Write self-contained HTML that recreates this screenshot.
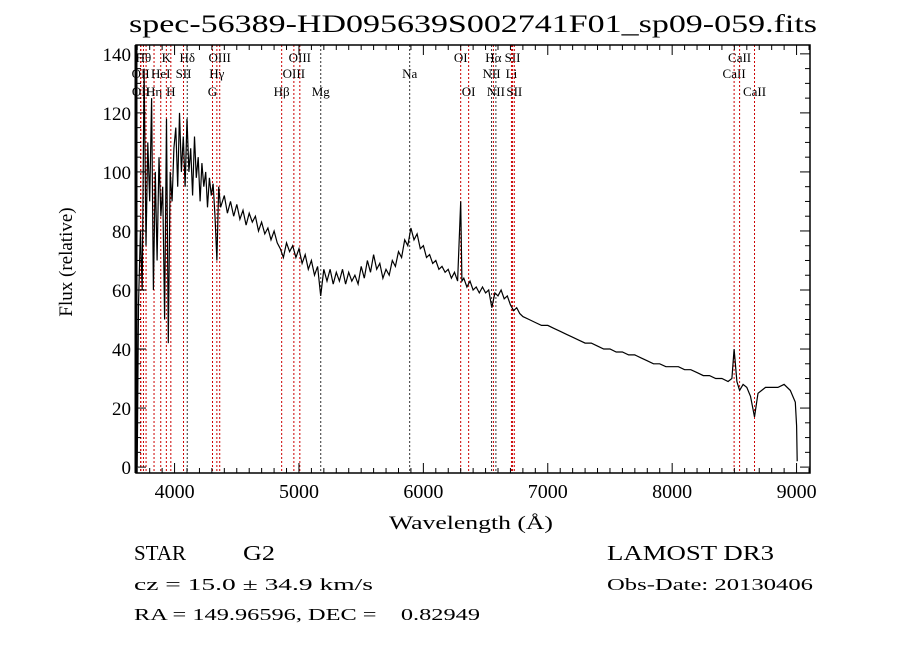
<!DOCTYPE html>
<html><head><meta charset="utf-8"><style>
body{margin:0;background:#fff;}
svg text{font-family:"Liberation Serif",serif;fill:#000;white-space:pre;}
</style></head><body>
<svg id="c" width="900" height="649" xmlns="http://www.w3.org/2000/svg">
<rect width="900" height="649" fill="#fff"/>
<text x="473" y="32" font-size="25" text-anchor="middle" textLength="688" lengthAdjust="spacingAndGlyphs">spec-56389-HD095639S002741F01_sp09-059.fits</text>
<g id="lines"></g>
<g id="spec"></g>
<g id="axes"></g>
<text x="389" y="529" font-size="19" font-family="Liberation Mono" textLength="164" lengthAdjust="spacingAndGlyphs">Wavelength (Å)</text>
<text transform="translate(72,262) rotate(-90)" font-size="19" text-anchor="middle" font-family="Liberation Mono">Flux (relative)</text>
<text x="134" y="560" font-size="21" font-family="Liberation Mono" textLength="52" lengthAdjust="spacingAndGlyphs">STAR</text>
<text x="243" y="560" font-size="21" font-family="Liberation Mono" textLength="32" lengthAdjust="spacingAndGlyphs">G2</text>
<text x="134" y="590" font-size="17" font-family="Liberation Mono" textLength="239" lengthAdjust="spacingAndGlyphs">cz = 15.0 ± 34.9 km/s</text>
<text x="134" y="620" font-size="17" font-family="Liberation Mono" textLength="346" lengthAdjust="spacingAndGlyphs">RA = 149.96596, DEC =    0.82949</text>
<text x="607" y="560" font-size="21" font-family="Liberation Mono" textLength="167" lengthAdjust="spacingAndGlyphs">LAMOST DR3</text>
<text x="607" y="590" font-size="17" font-family="Liberation Mono" textLength="206" lengthAdjust="spacingAndGlyphs">Obs-Date: 20130406</text>
</svg>
<script>
const wavelengths=[3700,3710,3725,3740,3755,3770,3785,3800,3815,3830,3845,3860,3875,3890,3905,3920,3935,3950,3965,3980,3995,4010,4025,4040,4055,4070,4085,4100,4115,4130,4145,4160,4175,4190,4205,4220,4235,4250,4265,4280,4295,4310,4325,4340,4355,4370,
4400,4425,4450,4475,4500,4525,4550,4575,4600,4625,4650,4675,4700,4725,4750,4775,4800,4825,4850,4875,4900,4925,4950,4975,5000,5025,5050,5075,5100,5125,5150,5175,5200,5225,5250,5275,5300,5325,5350,5375,5400,5425,5450,5475,5500,5525,5550,5575,5600,5625,5650,5675,5700,5725,5750,5775,5800,5825,5850,5875,5900,5925,5950,5975,6000,6025,6050,6075,6100,6125,6150,6175,6200,6225,6250,6275,6300,6310,6325,6350,6375,6400,6425,6450,6475,6500,6525,6550,6575,6600,6625,6650,6675,6700,6725,6750,6775,6800,
6850,6900,6950,7000,7050,7100,7150,7200,7250,7300,7350,7400,7450,7500,7550,7600,7650,7700,7750,7800,7850,7900,7950,8000,8050,8100,8150,8200,8250,8300,8350,8400,8450,8480,8498,8520,8542,8570,8600,8630,8662,8690,8720,8750,8800,8850,8900,8950,8990,9000,9005];
const fluxes=[0,55,80,60,135,75,110,90,125,60,100,70,105,85,95,50,118,42,100,90,108,115,95,120,100,112,95,118,100,108,92,112,98,105,90,103,95,100,88,98,92,96,85,70,95,88,
92,86,90,85,89,84,87,82,86,83,85,80,83,79,81,77,80,76,74,71,76,73,75,71,74,69,72,67,70,65,68,58,67,63,67,62,66,63,67,62,66,63,65,62,68,64,70,66,72,67,69,64,67,65,70,68,73,71,77,75,81,77,79,74,75,71,72,69,70,67,68,66,67,64,66,63,90,63,64,61,63,60,61,59,61,59,60,54,59,58,60,57,58,55,53,54,52,51,
50,49,48,48,47,46,45,44,43,42,42,41,40,40,39,39,38,38,37,36,35,35,34,34,34,33,33,32,31,31,30,30,29,30,40,29,26,28,27,24,17,25,26,27,27,27,28,26,22,14,2];
const tickX=[4000,5000,6000,7000,8000,9000];
const tickY=[0,20,40,60,80,100,120,140];
const lineWl=[3727,3729,3750,3771,3835,3889,3934,3970,4072,4102,4305,4340,4363,4861,4959,5007,5175,5890,6300,6364,6548,6563,6583,6708,6717,6731,8498,8542,8662];
const lineLbl=["OII","OII","Hθ","","Hη","HeI","K","H","SII","Hδ","G","Hγ","OIII","Hβ","OIII","OIII","Mg","Na","OI","OI","NII","Hα","NII","Li","SII","SII","CaII","CaII","CaII"];
const lineRow=[2,3,1,0,3,2,1,3,2,1,3,2,1,3,2,1,3,2,1,3,2,1,3,2,1,3,2,1,3];
const lineDark=[0,0,0,0,0,0,0,0,0,1,0,0,0,0,0,0,1,1,0,0,1,0,1,0,0,0,0,0,0];
const X0=136,X1=810,W0=3690,W1=9108,Y0=473,Y1=45,F0=-2,F1=143;
const sx=w=>X0+(w-W0)/(W1-W0)*(X1-X0);
const sy=f=>Y0-(f-F0)/(F1-F0)*(Y0-Y1);
const NS="http://www.w3.org/2000/svg";
function mk(t,a,p){const e=document.createElementNS(NS,t);for(const k in a)e.setAttribute(k,a[k]);p.appendChild(e);return e;}
const gl=document.getElementById('lines');
lineWl.forEach((w,i)=>{
 const l=mk('line',{x1:sx(w),x2:sx(w),y1:Y1,y2:Y0,stroke:lineDark[i]?'#333':'#c00','stroke-width':1,'stroke-dasharray':'2,2'},gl);
 
 
 if(lineLbl[i]){
  const t=mk('text',{x:sx(w),y:[0,62,78,96][lineRow[i]],'font-size':13,'text-anchor':'middle'},gl);
  t.textContent=lineLbl[i];
  
  
 }
});
const gs=document.getElementById('spec');
const p=mk('path',{d:wavelengths.map((w,i)=>(i?'L':'M')+sx(w).toFixed(1)+' '+sy(fluxes[i]).toFixed(1)).join(''),fill:'none',stroke:'#000','stroke-width':1.2},gs);


const ga=document.getElementById('axes');
const fr=mk('rect',{x:X0,y:Y1,width:X1-X0,height:Y0-Y1,fill:'none',stroke:'#000','stroke-width':1.5},ga);


mk('line',{x1:X0,x2:X0,y1:Y1,y2:Y0,stroke:'#000','stroke-width':3},ga);
for(let w=3700;w<=9100;w+=100){const maj=w%1000==0,L=maj?10:5,x=sx(w);
 mk('line',{x1:x,x2:x,y1:Y0,y2:Y0-L,stroke:'#000'},ga);mk('line',{x1:x,x2:x,y1:Y1,y2:Y1+L,stroke:'#000'},ga);}
for(let f=0;f<=140;f+=5){const maj=f%20==0,L=maj?10:5,y=sy(f);
 mk('line',{x1:X0,x2:X0+L,y1:y,y2:y,stroke:'#000'},ga);mk('line',{x1:X1,x2:X1-L,y1:y,y2:y,stroke:'#000'},ga);}
tickX.forEach(w=>{const t=mk('text',{x:sx(w),y:Y0+25,'font-size':20,'text-anchor':'middle','font-family':'Liberation Sans'},ga);t.textContent=w;
 
 });
tickY.forEach(f=>{const t=mk('text',{x:X0-5,y:sy(f)+7,'font-size':19,'text-anchor':'end','font-family':'Liberation Sans'},ga);t.textContent=f;
 
 });
</script>
</body></html>
